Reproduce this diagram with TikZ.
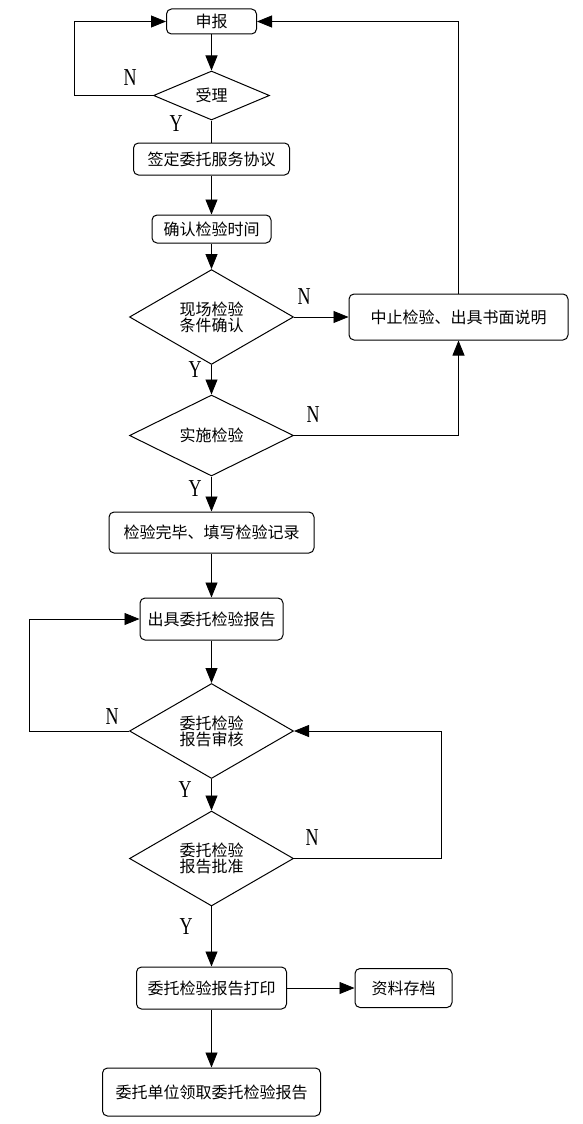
\documentclass[tikz,border=0pt]{standalone}
\usepackage{fontspec}
\setmainfont{Liberation Serif}
\newfontfamily\cjk{Noto Sans CJK SC}
\usetikzlibrary{shapes.geometric,arrows.meta}
\tikzset{
  box/.style={draw, line width=1pt, rounded corners=5pt, inner sep=0pt, font=\cjk\fontsize{16}{16}\selectfont, align=center},
  dia/.style={draw, line width=1pt, diamond, inner sep=0pt, font=\cjk\fontsize{16}{16}\selectfont, align=center, minimum width=164pt, minimum height=81pt},
  conn/.style={line width=0.8pt},
  arr/.style={conn, -{Triangle[length=15pt,width=12pt]}},
  yn/.style={font=\fontsize{18}{18}\selectfont, inner sep=0pt, yscale=1.35}
}
\begin{document}
\begin{tikzpicture}[x=1pt,y=-1pt]
\useasboundingbox (0,0) rectangle (582,1124);
\node[box, minimum width=90pt, minimum height=25pt] (sb) at (211.5,21.5) {申报};
\node[dia, minimum width=116pt, minimum height=49pt] (sl) at (211.5,95.5) {受理};
\node[box, minimum width=156pt, minimum height=32pt] (qd) at (211.5,159) {签定委托服务协议};
\node[box, minimum width=119pt, minimum height=28pt] (qr) at (211.5,229) {确认检验时间};
\node[dia, minimum height=80pt] (xc) at (211.5,317) {现场检验\\条件确认};
\node[box, minimum width=219pt, minimum height=46pt] (zz) at (458.5,317) {中止检验、出具书面说明};
\node[dia] (ss) at (211.5,435.5) {实施检验};
\node[box, minimum width=205pt, minimum height=41pt] (wb) at (211.5,532.5) {检验完毕、填写检验记录};
\node[box, minimum width=143pt, minimum height=42pt] (cj) at (211.5,619) {出具委托检验报告};
\node[dia, minimum height=82pt] (sh) at (211.5,731) {委托检验\\报告审核};
\node[dia] (pz) at (211.5,858.5) {委托检验\\报告批准};
\node[box, minimum width=150pt, minimum height=42pt] (dy) at (211.5,988) {委托检验报告打印};
\node[box, minimum width=97pt, minimum height=39pt] (zl) at (403.5,988) {资料存档};
\node[box, minimum width=218pt, minimum height=48pt] (lq) at (211.5,1092) {委托单位领取委托检验报告};

\coordinate (l1) at (74,95.5);
\coordinate (r1) at (458.5,21.5);
\coordinate (l2) at (29,731);
\coordinate (r2) at (441,858.5);

\draw[arr] (sb) -- (sl);
\draw[arr] (sl.west) -- (l1) |- (sb.west);
\draw[conn] (sl.south) -- (qd.north);
\draw[arr] (qd) -- (qr);
\draw[arr] (qr) -- (xc);
\draw[arr] (xc.east) -- (zz.west);
\draw[arr] (zz.north) -- (r1) -- (sb.east);
\draw[arr] (xc.south) -- (ss.north);
\draw[arr] (ss.east) -| (zz.south);
\draw[arr] (ss.south) -- (wb.north);
\draw[arr] (wb) -- (cj);
\draw[arr] (cj.south) -- (sh.north);
\draw[arr] (sh.west) -- (l2) |- (cj.west);
\draw[arr] (sh.south) -- (pz.north);
\draw[arr] (pz.east) -- (r2) |- (sh.east);
\draw[arr] (pz.south) -- (dy.north);
\draw[arr] (dy) -- (zl);
\draw[arr] (dy) -- (lq);

\node[yn] (n1) at (130,78) {N};
\node[yn] (y1) at (176,124) {Y};
\node[yn] (n2) at (304,297) {N};
\node[yn] (y2) at (195,370) {Y};
\node[yn] (n3) at (313,415) {N};
\node[yn] (y3) at (195,489) {Y};
\node[yn] (n4) at (112,717) {N};
\node[yn] (y4) at (185,790) {Y};
\node[yn] (n5) at (312,838) {N};
\node[yn] (y5) at (186,927) {Y};
\end{tikzpicture}
\end{document}
